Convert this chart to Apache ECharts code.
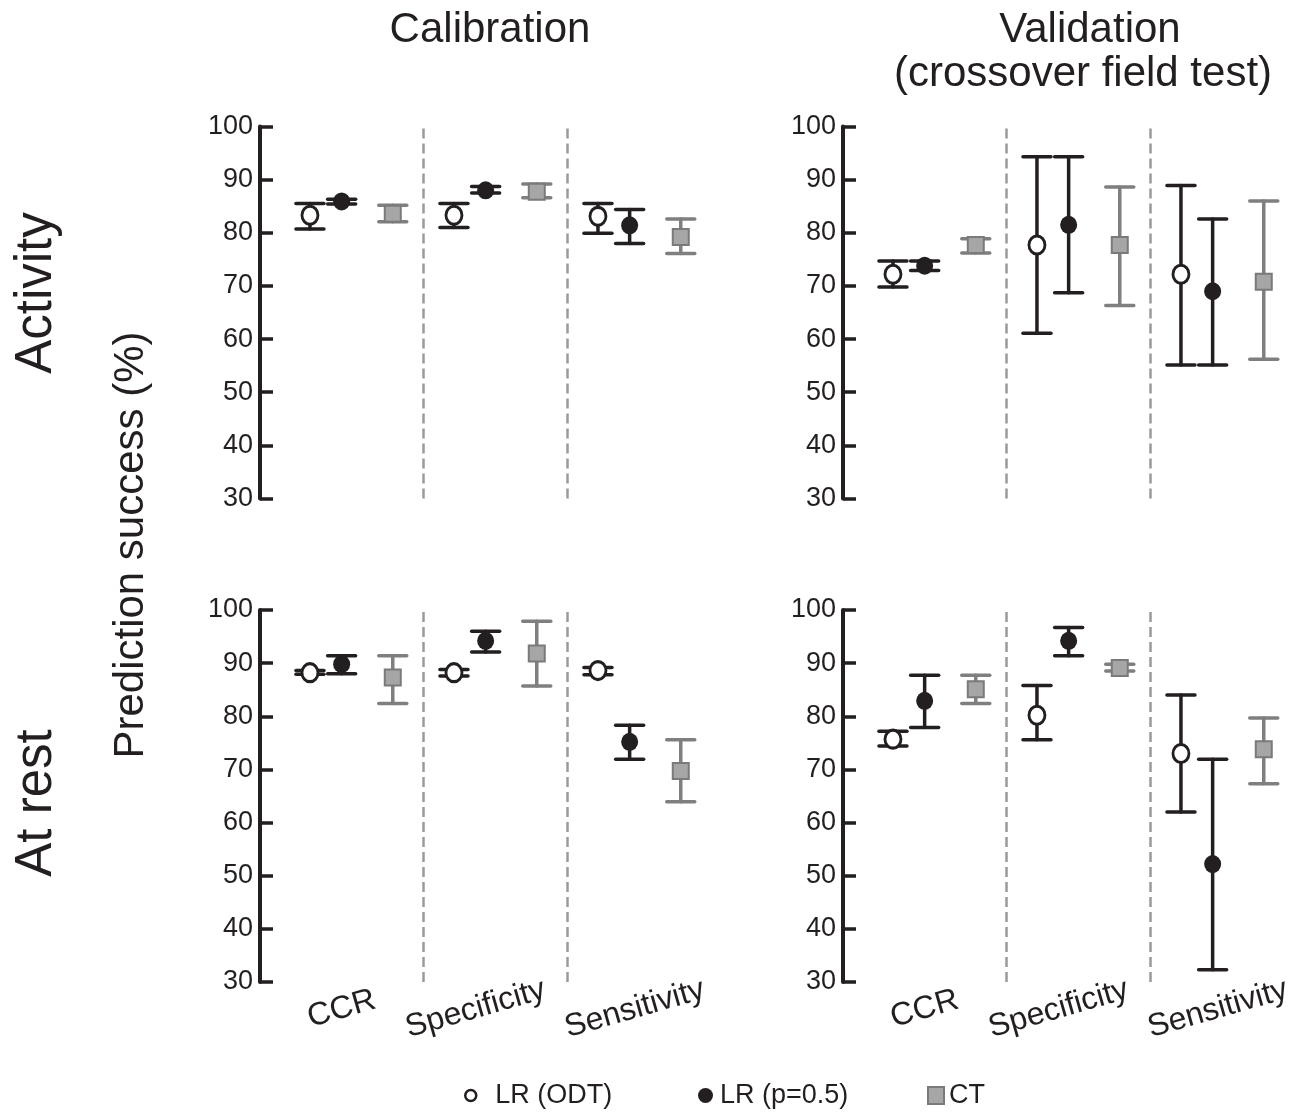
<!DOCTYPE html>
<html>
<head>
<meta charset="utf-8">
<script src="https://cdn.jsdelivr.net/npm/echarts@6/dist/echarts.min.js"></script>
<style>
html,body{margin:0;padding:0;background:#fff;}
#chart{width:1301px;height:1112px;}
</style>
</head>
<body>
<div id="chart"></div>
<script>
// ---- Data ----
const categories = ['CCR', 'Specificity', 'Sensitivity'];
const methods = ['LR (ODT)', 'LR (p=0.5)', 'CT'];
const yMin = 30, yMax = 100, yStep = 10;

// each entry: [mean, lower, upper] per category
const calAct_ODT = [[83.3, 80.7, 85.5], [83.3, 81.0, 85.5], [83.1, 79.9, 85.5]];
const calAct_LR  = [[85.9, 85.4, 86.3], [88.0, 87.5, 88.7], [81.4, 78.0, 84.4]];
const calAct_CT  = [[83.6, 82.1, 85.2], [87.7, 86.6, 89.2], [79.2, 76.1, 82.6]];

const valAct_ODT = [[72.2, 69.8, 74.7], [77.7, 61.1, 94.3], [72.2, 55.1, 88.9]];
const valAct_LR  = [[73.8, 72.9, 74.7], [81.5, 68.7, 94.3], [69.0, 55.1, 82.6]];
const valAct_CT  = [[77.7, 76.2, 78.9], [77.7, 66.3, 88.6], [70.8, 56.2, 86.0]];

const calRest_ODT = [[88.2, 87.9, 88.6], [88.2, 87.6, 88.8], [88.6, 87.8, 89.2]];
const calRest_LR  = [[89.8, 88.0, 91.4], [94.2, 92.1, 96.0], [75.2, 71.9, 78.3]];
const calRest_CT  = [[87.3, 82.4, 91.4], [91.8, 85.7, 97.9], [69.7, 63.9, 75.6]];

const valRest_ODT = [[75.7, 74.4, 77.2], [80.2, 75.6, 85.8], [73.0, 62.0, 84.0]];
const valRest_LR  = [[82.9, 77.9, 87.7], [94.2, 91.4, 96.7], [52.2, 32.3, 71.9]];
const valRest_CT  = [[85.1, 82.4, 87.7], [89.1, 88.5, 89.8], [73.8, 67.3, 79.7]];

// ---- Layout / style ----
const panels = [
  [calAct_ODT, calAct_LR, calAct_CT],
  [valAct_ODT, valAct_LR, valAct_CT],
  [calRest_ODT, calRest_LR, calRest_CT],
  [valRest_ODT, valRest_LR, valRest_CT]
];
const grids = [
  {left: 260, top: 126.5, width: 451, height: 372},
  {left: 843, top: 126.5, width: 451, height: 372},
  {left: 260, top: 610, width: 451, height: 372},
  {left: 843, top: 610, width: 451, height: 372}
];
const xStart = -0.132;
const methodOffset = [0.215, 0.435, 0.79];
const labelPos = [0.435, 1.365, 2.47];
const FONT = 'Liberation Sans, Arial, Helvetica, sans-serif';
const DARK = '#231f20';
const barColors = [DARK, DARK, '#7f7f7f'];
const markerStyles = [
  {symbol: 'circle', symbolSize: [16, 18], itemStyle: {color: '#ffffff', borderColor: DARK, borderWidth: 3, opacity: 1}},
  {symbol: 'circle', symbolSize: [17, 18], itemStyle: {color: DARK, borderColor: DARK, borderWidth: 0, opacity: 1}},
  {symbol: 'rect', symbolSize: 16, itemStyle: {color: '#a6a6a6', borderColor: '#7a7a7a', borderWidth: 2, opacity: 1}}
];

function errorBarRenderer(color) {
  return function (params, api) {
    const x = api.value(0), lo = api.value(1), hi = api.value(2);
    const pLo = api.coord([x, lo]);
    const pHi = api.coord([x, hi]);
    const hw = 14;
    const style = {stroke: color, lineWidth: 3.5, lineCap: 'round', fill: null};
    return {
      type: 'group',
      children: [
        {type: 'line', shape: {x1: pLo[0], y1: pLo[1], x2: pHi[0], y2: pHi[1]}, style: style},
        {type: 'line', shape: {x1: pLo[0] - hw, y1: pLo[1], x2: pLo[0] + hw, y2: pLo[1]}, style: style},
        {type: 'line', shape: {x1: pHi[0] - hw, y1: pHi[1], x2: pHi[0] + hw, y2: pHi[1]}, style: style}
      ]
    };
  };
}

const xAxes = [], yAxes = [], series = [];
grids.forEach((g, gi) => {
  const bottomRow = gi >= 2;
  xAxes.push({
    gridIndex: gi, type: 'value', min: xStart, max: categories.length,
    axisLine: {show: false, onZero: false}, axisTick: {show: false}, splitLine: {show: false},
    axisLabel: {
      show: bottomRow,
      customValues: labelPos,
      formatter: v => categories[Math.floor(v)],
      rotate: 16, align: 'center', verticalAlign: 'middle',
      margin: 27, fontSize: 32, color: DARK, fontFamily: FONT
    }
  });
  yAxes.push({
    gridIndex: gi, type: 'value', min: yMin, max: yMax, interval: yStep,
    axisLine: {show: true, onZero: false, lineStyle: {color: DARK, width: 4}},
    axisTick: {show: true, inside: true, length: 13, lineStyle: {color: DARK, width: 3.5}},
    splitLine: {show: false},
    axisLabel: {margin: 7, fontSize: 27, color: DARK, fontFamily: FONT}
  });
  const pd = panels[gi];
  pd.forEach((d, m) => {
    series.push({
      type: 'custom', xAxisIndex: gi, yAxisIndex: gi, z: 2, silent: true,
      renderItem: errorBarRenderer(barColors[m]),
      encode: {x: 0, y: [1, 2]},
      data: d.map((v, i) => [i + methodOffset[m], v[1], v[2]])
    });
  });
  pd.forEach((d, m) => {
    const s = {
      type: 'scatter', name: methods[m], xAxisIndex: gi, yAxisIndex: gi, z: 3,
      symbol: markerStyles[m].symbol, symbolSize: markerStyles[m].symbolSize,
      itemStyle: markerStyles[m].itemStyle,
      data: d.map((v, i) => [i + methodOffset[m], v[0]])
    };
    if (m === 0) {
      s.markLine = {
        silent: true, symbol: 'none', label: {show: false},
        lineStyle: {type: [10, 5], color: '#9a9a9a', width: 2.5},
        data: [{xAxis: 1}, {xAxis: 2}]
      };
    }
    series.push(s);
  });
});

const legendText = {fontSize: 27, color: DARK, fontFamily: FONT};
const option = {
  animation: false,
  backgroundColor: '#ffffff',
  textStyle: {fontFamily: FONT},
  grid: grids,
  xAxis: xAxes,
  yAxis: yAxes,
  series: series,
  legend: [
    {data: [{name: methods[0], icon: 'circle', itemStyle: {borderWidth: 2.5}}], left: 459, top: 1077,
     itemWidth: 11, itemHeight: 17, selectedMode: false, textStyle: Object.assign({padding: [0, 0, 0, 14]}, legendText)},
    {data: [{name: methods[1], icon: 'circle'}], left: 693, top: 1077,
     itemWidth: 15, itemHeight: 19, selectedMode: false, textStyle: Object.assign({padding: [0, 0, 0, 2]}, legendText)},
    {data: [{name: methods[2], icon: 'rect'}], left: 922, top: 1077,
     itemWidth: 16, itemHeight: 17, selectedMode: false, textStyle: legendText}
  ],
  graphic: [
    {type: 'text', x: 490, y: 30, style: {text: 'Calibration', font: '42px ' + FONT, fill: DARK, textAlign: 'center', textVerticalAlign: 'middle'}},
    {type: 'text', x: 1090, y: 30, style: {text: 'Validation', font: '42px ' + FONT, fill: DARK, textAlign: 'center', textVerticalAlign: 'middle'}},
    {type: 'text', x: 1083, y: 74, style: {text: '(crossover field test)', font: '42px ' + FONT, fill: DARK, textAlign: 'center', textVerticalAlign: 'middle'}},
    {type: 'text', x: 37, y: 293, rotation: Math.PI / 2, style: {text: 'Activity', font: '51px ' + FONT, fill: DARK, textAlign: 'center', textVerticalAlign: 'middle'}},
    {type: 'text', x: 37, y: 803, rotation: Math.PI / 2, style: {text: 'At rest', font: '51px ' + FONT, fill: DARK, textAlign: 'center', textVerticalAlign: 'middle'}},
    {type: 'text', x: 131, y: 545, rotation: Math.PI / 2, style: {text: 'Prediction success (%)', font: '42px ' + FONT, fill: DARK, textAlign: 'center', textVerticalAlign: 'middle'}}
  ]
};

const chart = echarts.init(document.getElementById('chart'), null, {renderer: 'canvas'});
chart.setOption(option);
</script>
</body>
</html>
